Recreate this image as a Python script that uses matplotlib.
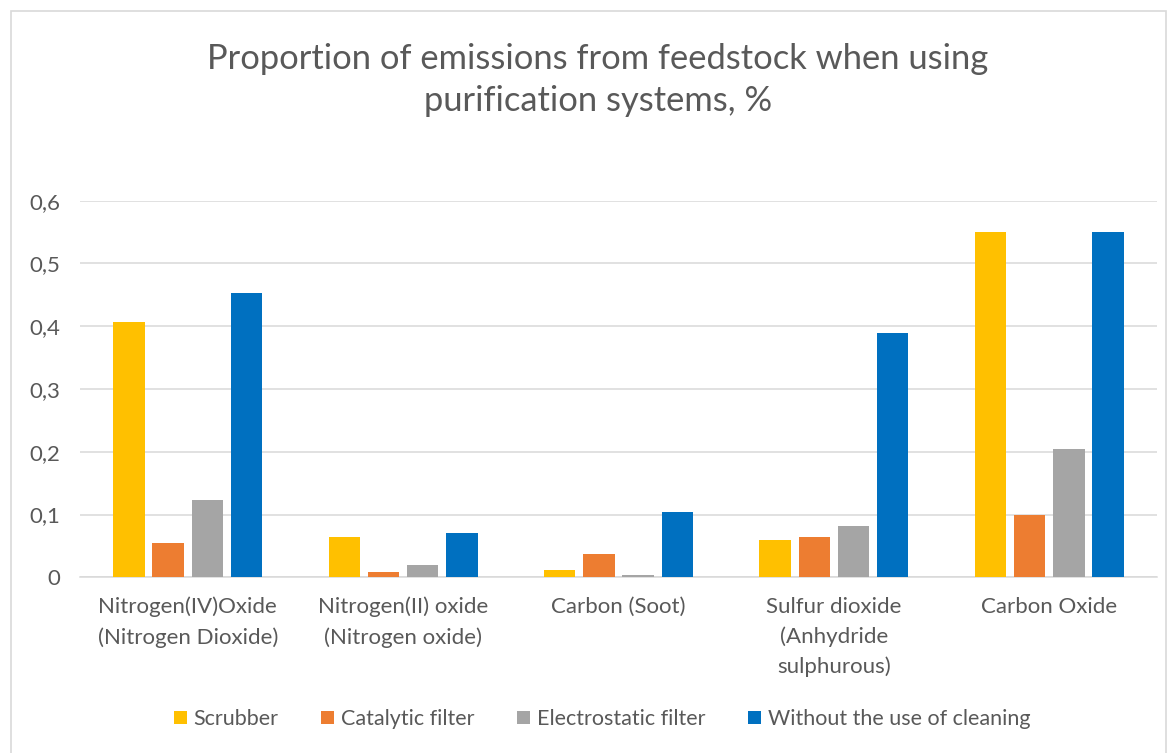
import matplotlib
matplotlib.use("Agg")
import matplotlib.pyplot as plt
import numpy as np
from matplotlib.patches import Rectangle

categories = ["Nitrogen(IV)Oxide\n(Nitrogen Dioxide)", "Nitrogen(II) oxide\n(Nitrogen oxide)",
              "Carbon (Soot)", "Sulfur dioxide\n(Anhydride\nsulphurous)", "Carbon Oxide"]
series_names = ["Scrubber", "Catalytic filter", "Electrostatic filter", "Without the use of cleaning"]
scrubber = [0.407, 0.064, 0.012, 0.059, 0.550]
catalytic = [0.055, 0.009, 0.037, 0.065, 0.100]
electrostatic = [0.123, 0.019, 0.004, 0.082, 0.204]
without = [0.453, 0.070, 0.104, 0.390, 0.550]
yticks = [0, 0.1, 0.2, 0.3, 0.4, 0.5, 0.6]
ytick_labels = ["0", "0,1", "0,2", "0,3", "0,4", "0,5", "0,6"]
title = "Proportion of emissions from feedstock when using\npurification systems, %"

colors = ["#FFC000", "#ED7D31", "#A5A5A5", "#0070C0"]
txt = "#595959"
plt.rcParams['font.family'] = ['Lato', 'DejaVu Sans']

fig = plt.figure(figsize=(11.76, 7.53), dpi=100)
fig.patch.set_facecolor("white")
ax = fig.add_axes([80/1176, 1-577.3/753, 1077/1176, (577.3-200.7)/753])

x = np.arange(len(categories))
slot = 0.182
bw = 0.145
data = [scrubber, catalytic, electrostatic, without]
handles = []
for i, (vals, c, name) in enumerate(zip(data, colors, series_names)):
    off = (i - 1.5) * slot
    b = ax.bar(x + off, vals, width=bw, color=c, label=name, zorder=3)
    handles.append(b)

ax.set_xlim(-0.5, len(categories) - 0.5)
ax.set_ylim(0, 0.6)
ax.set_yticks(yticks)
ax.set_yticklabels(ytick_labels, fontsize=16, color=txt)
ax.set_xticks(x)
ax.set_xticklabels(categories, fontsize=16, color=txt, linespacing=1.58, va="top")
ax.tick_params(axis='both', length=0)
ax.tick_params(axis='x', pad=14)
ax.tick_params(axis='y', pad=14)
ax.grid(axis='y', color="#D9D9D9", linewidth=1.1, zorder=0)
for s in ["top", "right", "left"]:
    ax.spines[s].set_visible(False)
ax.spines["bottom"].set_color("#D9D9D9")
ax.spines["bottom"].set_linewidth(1.1)
ax.set_axisbelow(True)

fig.text(598/1176, 1-80/753, title, ha="center", va="center", fontsize=24.8, color=txt,
         linespacing=1.42)

leg = fig.legend(handles=handles, labels=series_names, loc="center", ncol=4,
                 bbox_to_anchor=(602/1176, 1-719/753), frameon=False, fontsize=15.5,
                 handlelength=0.6, handleheight=0.6, handletextpad=0.3, columnspacing=2.0)
for t in leg.get_texts():
    t.set_color(txt)

fig.patches.append(Rectangle((11/1176, -0.01), (1166-11)/1176, 1.01 - 11/753,
                             transform=fig.transFigure, fill=False, edgecolor="#D9D9D9",
                             linewidth=1.2))

fig.savefig("out.png", dpi=100, facecolor="white")
